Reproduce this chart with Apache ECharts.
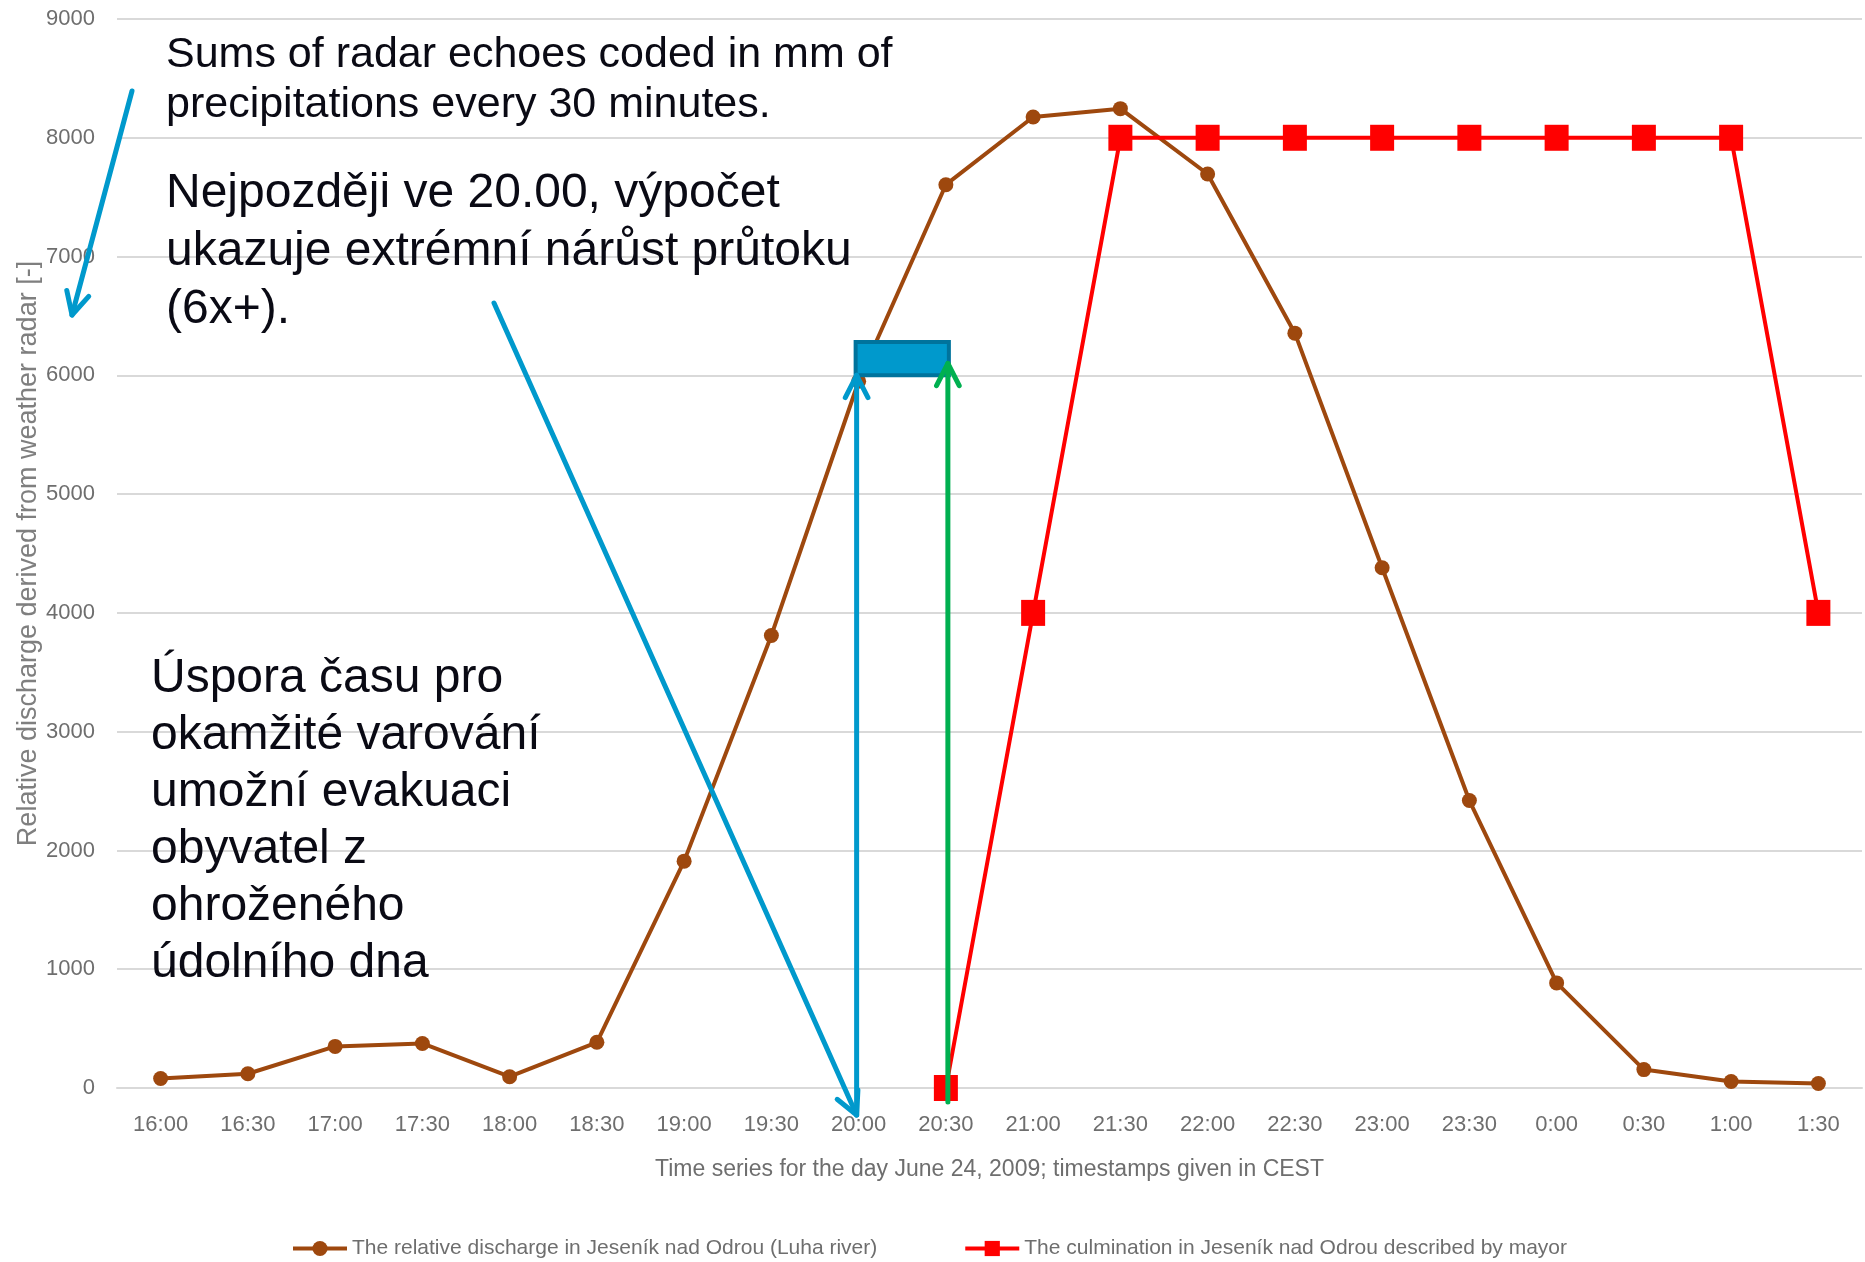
<!DOCTYPE html>
<html>
<head>
<meta charset="utf-8">
<script src="https://cdn.jsdelivr.net/npm/echarts@6/dist/echarts.min.js"></script>
<style>
  html, body { margin: 0; padding: 0; background: #fff; }
  #chart { width: 1865px; height: 1262px; }
</style>
</head>
<body>
<div id="chart"></div>
<script>
const categories = ['16:00', '16:30', '17:00', '17:30', '18:00', '18:30', '19:00', '19:30', '20:00', '20:30',
  '21:00', '21:30', '22:00', '22:30', '23:00', '23:30', '0:00', '0:30', '1:00', '1:30']
const dischargeValues = [80, 120, 350, 375, 95, 385, 1910, 3810, 5950, 7605,
  8175, 8245, 7695, 6355, 4380, 2420, 885, 155, 55, 38]
const culminationValues = [null, null, null, null, null, null, null, null, null, 0,
  4000, 8000, 8000, 8000, 8000, 8000, 8000, 8000, 8000, 4000]
const yMin = 0
const yMax = 9000
const yStep = 1000

const seriesNames = [
  'The relative discharge in Jeseník nad Odrou (Luha river)',
  'The culmination in Jeseník nad Odrou described by mayor'
]
const noteRadar = ['Sums of radar echoes coded in mm of', 'precipitations every 30 minutes.']
const noteLatest = ['Nejpozději ve 20.00, výpočet', 'ukazuje extrémní nárůst průtoku', '(6x+).']
const noteSaving = ['Úspora času pro', 'okamžité varování', 'umožní evakuaci', 'obyvatel z', 'ohroženého', 'údolního dna']

const sans = '"Liberation Sans", Arial, sans-serif'
const gray = '#6e6e6e'
const blue = '#0099cc'
const green = '#00b050'
const ink = '#0a0a14'

const chart = echarts.init(document.getElementById('chart'))

const option = {
  animation: false,
  backgroundColor: '#fff',
  grid: { left: 117, right: 3, top: 19, bottom: 174, containLabel: false, outerBoundsMode: 'none' },
  legend: {
    left: 291,
    top: 1238,
    padding: 0,
    itemWidth: 54,
    itemHeight: 19,
    itemGap: 86,
    lineStyle: { width: 4 },
    textStyle: { fontFamily: sans, fontSize: 21, color: gray },
    data: seriesNames
  },
  xAxis: {
    type: 'category',
    data: categories,
    boundaryGap: true,
    axisLine: { lineStyle: { color: '#d9d9d9', width: 2 } },
    axisTick: { show: false },
    axisLabel: { fontFamily: sans, fontSize: 22, color: gray, margin: 26 },
    name: 'Time series for the day June 24, 2009; timestamps given in CEST',
    nameLocation: 'middle',
    nameGap: 70,
    nameMoveOverlap: false,
    nameTextStyle: { fontFamily: sans, fontSize: 23, color: gray }
  },
  yAxis: {
    type: 'value',
    min: yMin,
    max: yMax,
    interval: yStep,
    axisLine: { show: false },
    axisTick: { show: false },
    axisLabel: { fontFamily: sans, fontSize: 22, color: gray, margin: 22, formatter: (v) => String(v) },
    splitLine: { lineStyle: { color: '#d9d9d9', width: 2 } },
    name: 'Relative discharge derived from weather radar [-]',
    nameLocation: 'middle',
    nameGap: 75,
    nameMoveOverlap: false,
    nameTextStyle: { fontFamily: sans, fontSize: 27, color: '#7f7f7f' }
  },
  series: [
    {
      name: seriesNames[0],
      type: 'line',
      data: dischargeValues,
      symbol: 'circle',
      symbolSize: 15,
      itemStyle: { color: '#9e480e' },
      lineStyle: { color: '#9e480e', width: 4 },
      z: 2
    },
    {
      name: seriesNames[1],
      type: 'line',
      data: culminationValues,
      symbol: 'rect',
      symbolSize: [24, 26],
      itemStyle: { color: '#ff0000' },
      lineStyle: { color: '#ff0000', width: 4 },
      z: 3
    }
  ]
}
chart.setOption(option)

// annotation helpers
const toPx = (cat, val) => chart.convertToPixel({ xAxisIndex: 0, yAxisIndex: 0 }, [cat, val])

function arrow (from, to, color) {
  const dx = from[0] - to[0]
  const dy = from[1] - to[1]
  const len = Math.sqrt(dx * dx + dy * dy)
  const ux = dx / len
  const uy = dy / len
  const a = 27 * Math.PI / 180
  const w = 25
  const rot = (s) => [
    to[0] + w * (ux * Math.cos(s * a) - uy * Math.sin(s * a)),
    to[1] + w * (ux * Math.sin(s * a) + uy * Math.cos(s * a))
  ]
  const style = { stroke: color, lineWidth: 5, lineCap: 'round', lineJoin: 'round', fill: null }
  return [
    { type: 'polyline', z: 100, shape: { points: [from, to] }, style },
    { type: 'polyline', z: 100, shape: { points: [rot(1), to, rot(-1)] }, style }
  ]
}

function noteText (lines, x, firstMiddle, lineHeight, fontSize) {
  return {
    type: 'text',
    z: 110,
    left: x,
    top: firstMiddle - lineHeight / 2 + 3,
    style: {
      text: lines.join('\n'),
      font: fontSize + 'px ' + sans,
      fill: ink,
      lineHeight: lineHeight,
      verticalAlign: 'top'
    }
  }
}

const at2000 = toPx('20:00', 0)
const at2030 = toPx('20:30', 0)
const boxLow = toPx('20:00', 6000)
const boxHigh = toPx('20:30', 6280)
const greenTop = toPx('20:30', 6100)

const elements = [
  {
    type: 'rect',
    z: 90,
    shape: { x: boxLow[0] - 3, y: boxHigh[1], width: boxHigh[0] - boxLow[0] + 6, height: boxLow[1] - boxHigh[1] },
    style: { fill: blue, stroke: '#00739c', lineWidth: 4 }
  },
  ...arrow([132, 91], [72, 315], blue),
  ...arrow([494, 303], [at2000[0] - 2, at2000[1] + 27], blue),
  ...arrow([at2000[0] - 2, at2000[1] + 27], [at2000[0] - 2, boxLow[1]], blue),
  ...arrow([at2030[0] + 2, at2030[1] + 14], [at2030[0] + 2, greenTop[1]], green),
  noteText(noteRadar, 166, 52, 50, 43),
  noteText(noteLatest, 166, 191, 58, 48),
  noteText(noteSaving, 151, 676, 57, 48)
]

chart.setOption({ graphic: { elements } })
</script>
</body>
</html>
